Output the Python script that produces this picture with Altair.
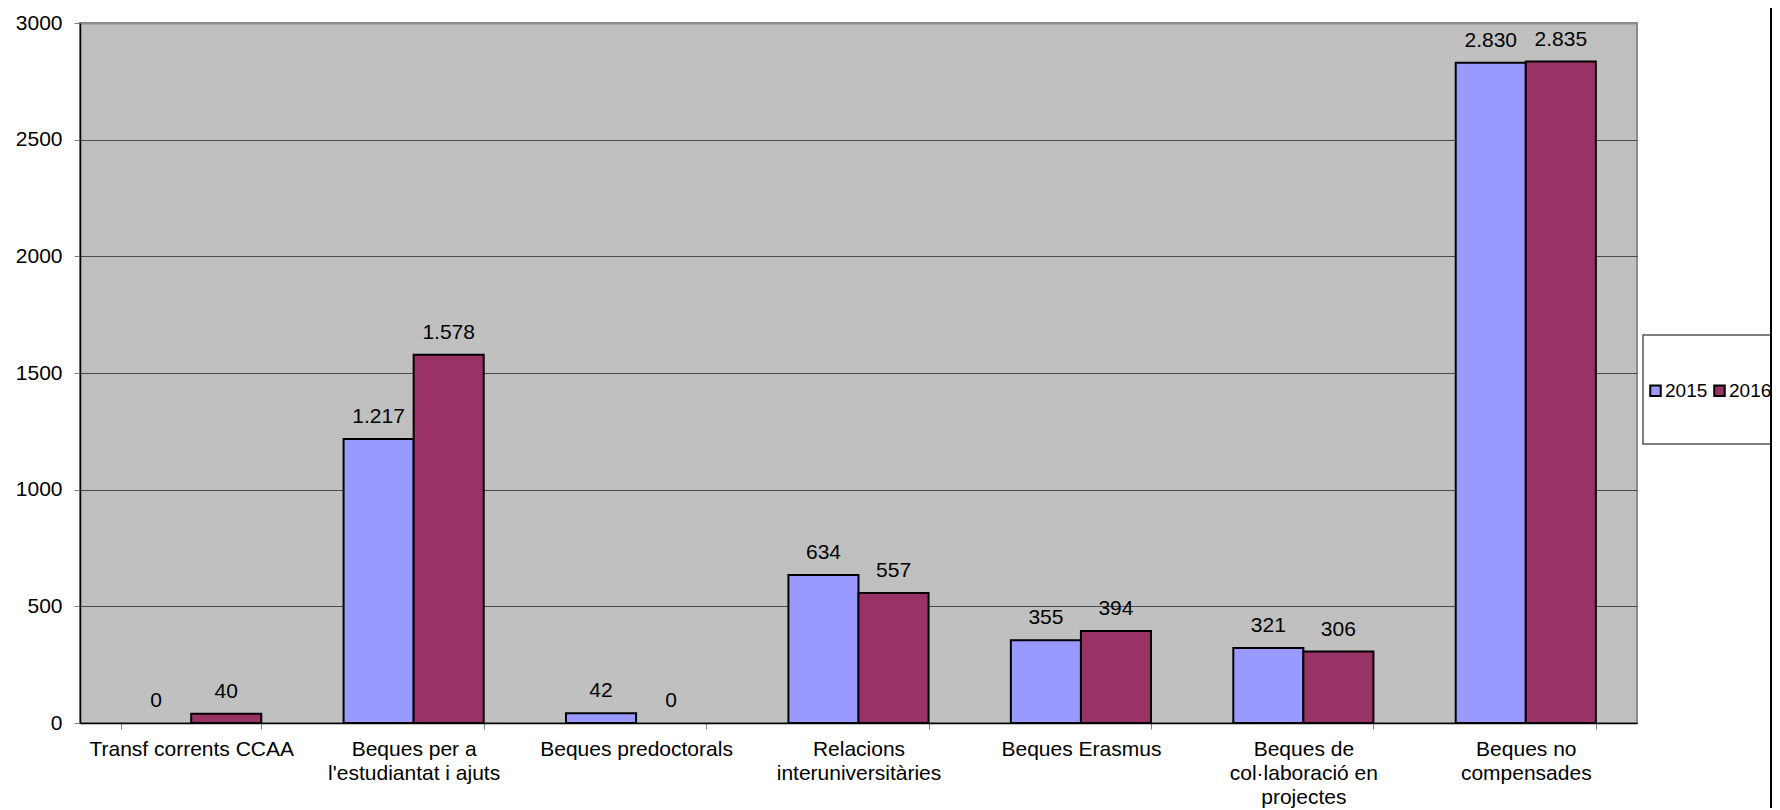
import altair as alt
import pandas as pd

categories = [
    "Transf corrents CCAA",
    "Beques per a\nl'estudiantat i ajuts",
    "Beques predoctorals",
    "Relacions\ninteruniversitàries",
    "Beques Erasmus",
    "Beques de\ncol·laboració en\nprojectes",
    "Beques no\ncompensades",
]
years = ["2015", "2016"]
values_2015 = [0, 1217, 42, 634, 355, 321, 2830]
values_2016 = [40, 1578, 0, 557, 394, 306, 2835]
y_ticks = [0, 500, 1000, 1500, 2000, 2500, 3000]
colors = ["#9999FF", "#993366"]

rows = []
for c, a, b in zip(categories, values_2015, values_2016):
    rows.append({"category": c, "year": years[0], "value": a})
    rows.append({"category": c, "year": years[1], "value": b})
df = pd.DataFrame(rows)

FONT = "Liberation Sans"
FS = 21

x_enc = alt.X(
    "category:N",
    sort=categories,
    scale=alt.Scale(paddingInner=0.37, paddingOuter=0.185),
    axis=alt.Axis(
        title=None,
        labelAngle=0,
        labelExpr="split(datum.label, '\\n')",
        labelFont=FONT,
        labelFontSize=FS,
        labelColor="black",
        labelLineHeight=24,
        labelBaseline="top",
        labelPadding=9,
        tickBand="extent",
        tickSize=6,
        tickColor="#808080",
        domainColor="black",
        domainWidth=1.5,
        labelLimit=400,
    ),
)
xoff = alt.XOffset("year:N", sort=years, scale=alt.Scale(paddingInner=0, paddingOuter=0))
y_enc = alt.Y(
    "value:Q",
    scale=alt.Scale(domain=[0, 3000], nice=False),
    axis=alt.Axis(
        title=None,
        values=y_ticks,
        format="d",
        labelFont=FONT,
        labelFontSize=FS,
        labelColor="black",
        labelPadding=12,
        tickSize=6,
        tickColor="#808080",
        domainColor="black",
        domainWidth=1.5,
        gridColor=alt.condition("datum.value >= 3000", alt.value("#8c8c8c"), alt.value("#4a4a4a")),
        gridWidth=alt.condition("datum.value >= 3000", alt.value(2), alt.value(1)),
    ),
)

bars = alt.Chart(df).transform_filter("datum.value > 0").mark_bar(stroke="black", strokeWidth=2).encode(
    x=x_enc,
    xOffset=xoff,
    y=y_enc,
    color=alt.Color(
        "year:N",
        sort=years,
        scale=alt.Scale(domain=years, range=colors),
        legend=alt.Legend(
            title=None,
            orient="none",
            legendX=1566,
            legendY=358,
            direction="horizontal",
            symbolType="square",
            symbolSize=110,
            symbolStrokeColor="black",
            symbolStrokeWidth=2,
            labelFont=FONT,
            labelFontSize=19,
            labelColor="black",
            labelOffset=0,
            columnPadding=2,
            padding=0,
        ),
    ),
)

labels = alt.Chart(df).transform_calculate(
    label="replace(format(datum.value, ','), ',', '.')"
).mark_text(
    dy=-16, baseline="alphabetic", align="center", font=FONT, fontSize=FS, color="black"
).encode(
    x=alt.X("category:N", sort=categories),
    xOffset=alt.XOffset("year:N", sort=years),
    y=alt.Y("value:Q"),
    text="label:N",
)

box_df = pd.DataFrame({"k": [0]})
legend_box = alt.Chart(box_df).mark_rect(fill="white", stroke="#555555", strokeWidth=1.5).encode(
    x=alt.value(1563), x2=alt.value(1800), y=alt.value(312), y2=alt.value(421)
)
border = alt.Chart(box_df).mark_rule(color="black", strokeWidth=2).encode(
    x=alt.value(1691), y=alt.value(-20), y2=alt.value(800)
)

chart = alt.layer(legend_box, bars, labels, border).properties(
    width=1557,
    height=700,
    autosize=alt.AutoSizeParams(type="none"),
    padding={"left": 72, "top": 15, "right": 135, "bottom": 85},
    background="white",
).configure_view(
    fill="#C0C0C0", stroke="#8c8c8c", strokeWidth=2
)

chart.save("out.html", embed_options={"renderer": "svg", "actions": False})
